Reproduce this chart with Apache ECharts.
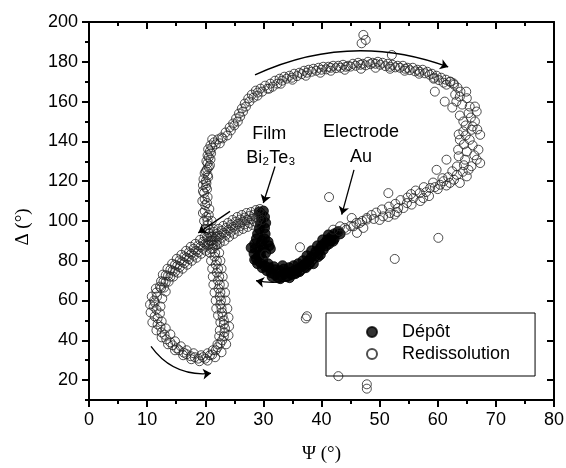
<!DOCTYPE html>
<html><head><meta charset="utf-8">
<script src="https://cdn.jsdelivr.net/npm/echarts@6/dist/echarts.min.js"></script>
<style>html,body{margin:0;padding:0;background:#fff}#c{width:566px;height:468px}</style>
</head><body><div id="c"></div>
<script>
const xTicks = [0, 10, 20, 30, 40, 50, 60, 70, 80];
const yMajorTicks = [20, 40, 60, 80, 100, 120, 140, 160, 180, 200];
const yMinorTicks = [10, 30, 50, 70, 90, 110, 130, 150, 170, 190];
const seriesNames = ['Dépôt', 'Redissolution'];

// Dépôt (filled circles)
const depot = [
[42.8,94.5],[42.2,93.5],[41.7,92],[41.2,93],[41,90.5],[40.6,89],[40.2,90.5],[40,87.5],[39.7,86],[39.3,87.5],
[39,84.5],[38.8,83],[38.3,85],[38.2,81.5],[37.8,80],[37.5,82.5],[37.2,78.5],[36.8,80],[36.6,77],[36,76],
[36,78.5],[35.3,75],[35.2,77.5],[34.5,74],[34.4,76.5],[33.7,73.5],[33.5,75.8],[33,72.5],[32.8,75],[32,73],
[32,75.5],[31.3,74],[31,76.5],[30.6,75],[30.2,77.5],[29.8,76.5],[29.5,79],[29,78.5],[28.8,81],[28.5,80.5],
[29.2,82.5],[28.4,83.5],[29.4,85],[28.6,86],[30,86.5],[28.5,88.5],[29.6,88.5],[31,87.5],[28.8,91],[30.2,91],
[29,93.5],[30.3,93.5],[29.3,96],[30.2,96.5],[29.5,98.5],[30.4,99],[29.7,101],[30.2,102],[29.6,103.5],[30,105],
[29.3,104.5],[38.6,78.5],[39.8,83],[40.8,87.5],[41.6,90],[42.2,91],[35.5,73.5],[34,72],[32.5,71.5],[37.3,76.5],
[32.9,71],[33.3,77.5],[31.5,72],[34.5,71.5],[36.2,74.5],[31.2,86],[27.9,86.5],
[31.8,77],[30.8,78.5],[29.9,80.5],[29.5,83],[30.4,84],[29.8,90],[30.8,89.5],[34.8,73.2],[35.8,74.8],[37,77.5],
[37.9,78.2],[39.4,82],[40.3,85.5],[41.3,88.5],[42,89.8],[43.2,93.5]
];

// Redissolution (open circles)
const redissolution = [
[29.6,103.5],[29.4,106],[29.8,100.5],[28.8,102],[28.7,105.5],[28.9,99],[28,101],[27.9,104.5],[28.1,98],
[27.2,100.5],[27.1,104],[27.3,97],[26.4,99.5],[26.3,103],[26.5,96],[25.6,98.5],[25.5,102],[25.7,95],
[24.8,97],[24.7,100.5],[24.9,93.5],[24,95.5],[23.9,99],[24.1,92],[23.2,94],[23.1,97.5],[23.3,90],
[22.4,92.5],[22.3,96],[22.5,89],[21.6,91],[21.5,94.5],[21.7,87.5],[20.8,90],[20.7,93.5],[20.9,86],
[20,88.5],[19.9,92],[20.1,85],[19.2,87],[19.1,90.5],[19.3,83.5],[18.4,85],[18.3,88.5],[18.5,81.5],
[17.6,83.5],[17.5,87],[17.7,80],[16.8,81.5],[16.7,85],[16.9,78],[16,79.5],[15.9,83],[16.1,76],
[15.2,77.5],[15.1,81],[15.3,74],[14.4,75],[14.3,78.5],[14.5,72],[13.6,72.5],[13.5,76],[13.7,69.5],
[12.8,69.5],[12.7,73],[12.9,66.5],
[29.2,104.5],[29.2,101],[28.4,103.2],[28.4,99.8],[27.6,102.5],[27.6,99],[26.8,101.7],[26.8,98.3],
[26,100.7],[26,97.3],[25.2,99.5],[25.2,96],[24.4,98],[24.4,94.5],[23.6,96.5],[23.6,93],[22.8,95],[22.8,91.5],
[22,93.5],[22,90],[21.2,92.2],[21.2,88.8],[20.4,91],[20.4,87.5],[19.6,89.5],[19.6,86],[18.8,87.7],[18.8,84.3],
[18,86],[18,82.5],[17.2,84.2],[17.2,80.8],[16.4,82.2],[16.4,78.8],[15.6,80.2],[15.6,76.8],[14.8,78],[14.8,74.5],
[14,75.5],[14,72],[13.2,72.7],[13.2,69.3],[12.4,69.7],[12.4,66.3],
[12.2,67],[11.5,66],[13.2,64.5],[11.6,64],[10.8,62],[12.6,61],[11.2,60],[10.5,58],[12.3,57],
[11.1,57],[10.6,54],[12.2,53.5],[11.3,52],[10.9,49],[12.5,49.5],[11.8,48],[11.6,45],[13.2,46],
[12.5,44],[12.5,41.5],[14,43],[13.3,40.5],[13.6,38],[14.8,39.5],[14.4,37.5],[14.8,35],[15.8,37],
[15.5,35],[16.2,32.5],[16.8,35],[16.8,33],[17.6,30.5],[18,33.5],[18.2,31.5],[19,29.5],[19.3,32.5],
[19.6,31.5],[20.4,29.8],[20.4,33.5],[20.8,32.5],[21.7,31.5],[21.3,35],[21.8,35],[22.8,34],[22.1,38],
[11.7,62],[11.3,59],[11.6,55.5],[11.8,51],[12.3,46.8],[13,42.8],[14,39],[15.1,36],[16.3,33.8],[17.5,32],
[18.8,30.8],[20,30.8],[21.2,32.8],[22.1,36.5],[22.9,40],[23.3,44],[23.2,48],[23,52],[22.8,56],[22.7,60],
[22.6,64],[22.5,68],[22.4,72],[22.2,76],[22,80],[21.7,84],[21.4,88],[21,92],[20.6,96],[20.4,100],
[22.6,38.5],[23.6,38],[22.4,42],[23.2,42],[24,42.5],[22.5,45],[23.4,46],[24.1,47],[22.6,49],
[23.2,50],[24,51.5],[22.2,52.5],[22.9,54],[23.8,56],[21.9,56],[22.6,58],[23.5,60],[21.8,60],
[22.5,62],[23.4,64],[21.6,64],[22.3,66],[23.2,68],[21.4,68],[22.2,70],[23,72],[21.3,72],
[22,74],[22.8,76],[21.2,76],[21.8,78],[22.6,80],[21,80],[21.6,82],[22.4,84],[20.8,84],
[21.3,86],[22,88],[20.6,88],[21,90],[21.8,92],[20.3,92],[20.7,94],[21.4,96],[20,96],
[20.4,98],[21.1,100],[19.8,100],
[20.2,102],[19.6,104],[20.7,106],[20,108],[19.5,110],[20.4,112],[19.8,114],[20.3,116],[19.6,118],
[20.1,120],[20.5,122],[19.9,124],[20.3,126],[20.8,128],[20.2,130],[20.6,132],[21,134],[20.5,136],
[20.9,138],[21.5,139.5],[22.2,141],
[20.6,103],[19.9,105],[20.3,109],[19.9,111],[19.6,115],[20.1,117],[20.2,119],[19.7,121],[20.4,123],[20.1,125],
[20.6,127],[20.4,129],[20.9,131],[20.4,133],[20.8,135],[21.2,137],[21.8,138.5],[21.2,141],[22.5,139],[23,141.5],
[23.8,143],[24.4,145.5],[25,148],[25.6,150],[26,152.5],[26.5,155],[27,157.5],[27.6,160],[28.3,162],[29,164.5],
[29.8,165],[30.7,166.5],[31.6,167.5],[32.4,169],[33.2,170.5],[34,171.5],[34.9,172],[35.8,172.8],[36.6,173.8],
[37.5,174.5],[38.3,175],[39.1,175.5],[40,176],[40.8,176.2],[41.6,177],[42.5,176.8],[43.3,177],[44.2,177.5],
[45,177.6],[45.9,178],[46.7,178.5],[47.6,178.2],[48.4,178.8],[49.3,179],[50.1,178.5],[51,177.8],[51.8,177.5],
[52.7,177.2],[53.5,177],[54.4,176.5],[55.2,175.8],[56.1,175.2],[56.9,175],[57.8,174.2],[58.6,173.5],[59.4,172],
[60.2,170.8],[61,169.5],
[22.8,142],[23.5,144.5],[24.2,147],[24.8,149],[25.3,151.5],[25.8,154],[26.3,156.5],[26.8,159],[27.4,161.5],
[28,163.5],[28.7,165.5],[29.5,166.5],[30.3,168],[31.2,169],[32,170.5],[32.8,171.5],[33.6,172.5],[34.5,173],
[35.3,174],[36.2,174.5],[37,175.5],[37.8,176],[38.6,176.5],[39.5,177],[40.3,177.5],[41.2,177.5],[42,178],
[42.9,178],[43.7,178.5],[44.6,178],[45.4,179],[46.3,179.5],[47.1,179],[48,180],[48.8,179.5],[49.7,180],
[50.5,179.5],[51.4,179],[52.2,178.5],[53.1,178],[54,178],[54.8,177],[55.7,177],[56.5,176],[57.4,176],
[58.2,175],[59,174],[59.8,173],[60.6,172],[61.4,171],[62.2,170],[62.8,168.5],[63.4,167],[63.9,165],
[29,163],[31,166.5],[33,169],[35,171],[37.3,173],[39.8,174.5],[41.6,175.5],[44,176],[46.8,176.5],
[49.3,177],[51.8,176.5],[54.3,175.5],[56.8,174],[59.3,171.5],[61.5,168.5],
[47.2,193.5],[46.9,189.3],[47.6,191],[52.1,183.4],[59.5,165],
[62.1,170],[62.7,169.2],[61.2,160],[63.8,162.5],[65,161.7],[66.4,157.5],[66.7,155],[65.3,154.2],[64.4,150],
[66.4,150],[65.8,145.8],[64.4,145],[67.3,143.3],[65.5,140.8],[63.8,140.8],[67,135.8],[65,134.9],[63.5,135.8],
[66.7,130.8],[64.7,130.8],[61.5,130.8],[67.3,129.1],[63.3,127.4],[65.3,125.7],[59.8,125.7],[63.3,123.2],[65,122.4],
[62.1,119.1],[63.8,119.1],[60.4,118.2],[58.7,116.6],[56.9,114],[55.8,111.5],[54.7,109],[53.2,106.5],[51.8,104],
[50.6,102.3],[52.6,103.2],[54.1,106.5],[57.5,111.5],[58,114.5],[59.5,117],[61,120],[64.5,128],[66,138],
[64.8,143],[66,147.5],[65.5,157.5],[64.2,158.5],[63,163.5],
[64.9,165],[63.2,160],[62.5,157],[63.8,153],[65.7,152],[64.8,148],[66.8,146],[63.6,143.5],[64.5,138.5],
[66.3,133],[63.6,132.5],[65.8,127.5],[62.5,125],[64.3,124.7],[61.8,122],[60.8,121.5],[62.8,120.7],[59.2,119.3],
[57.6,117],[56.2,115.3],[55.4,113.5],[54.8,111.8],[53.6,110.5],[52.7,108.6],[51.6,107.2],[50.4,105.8],[49.4,104.2],
[48.6,103],[47.8,101.5],[47,100],[46,99],[45,97.5],[44,96.5],[43,95],
[42,95.6],[43.2,97.3],[44.3,95.6],[45.5,97.3],[46.6,99],[47.2,96.5],[47.8,100.7],[46.1,94],[45.2,101.5],
[49,101],[50,100.5],[51.5,102],[53,104.5],[55.5,108.2],[57,110],[58.5,112.5],[60,116],[61.5,117.8],
[41.3,112],[36.3,86.8],[30.3,83.1],[51.5,114],[60.1,91.5],[52.6,80.9],[37.5,52.1],[37.3,51],
[42.9,22],[47.8,17.9],[47.8,15.7]
];

// Annotation arrows (data coordinates) and labels
const arrowFrom = [[28.56,173.4],[10.67,36.9],[40.43,84.6],[24.26,104.8],[32.0,127.4],[45.59,125.7]];
const arrowTo   = [[61.8,177.4],[20.99,23.4],[28.73,70.0],[18.8,94.0],[29.99,109.0],[43.48,103.2]];
const arrowBend = [0.207,-0.29,0.35,0,0,0];
const labelTexts = ['Film', 'Bi₂Te₃', 'Electrode', 'Au'];
const labelAt = [[31.0,143.8],[31.3,131.8],[46.8,144.8],[46.8,132.3]];

const sans = '"Liberation Sans", Arial, sans-serif';
const serif = '"Liberation Serif", "Times New Roman", serif';
const chart = echarts.init(document.getElementById('c'), null, {renderer: 'canvas'});

const axisLineStyle = {color: '#000', width: 2};
const tickStyle = {width: 2, color: '#000'};
const baseX = {type: 'value', min: xTicks[0], max: xTicks[xTicks.length - 1], interval: xTicks[1] - xTicks[0],
  splitLine: {show: false}, axisLine: {show: true, onZero: false, lineStyle: axisLineStyle}};
const yMin = 10, yMax = 200;

chart.setOption({
  animation: false,
  backgroundColor: '#fff',
  grid: {left: 89, right: 12, top: 22, bottom: 68, containLabel: false, outerBoundsMode: 'none'},
  xAxis: [
    Object.assign({}, baseX, {position: 'bottom',
      axisTick: {show: true, length: 7, lineStyle: tickStyle},
      minorTick: {show: true, splitNumber: 2, length: 4, lineStyle: tickStyle},
      axisLabel: {fontSize: 18, color: '#000', fontFamily: sans, margin: 11},
      name: 'Ψ (°)', nameLocation: 'middle', nameGap: 45,
      nameTextStyle: {fontSize: 19, fontFamily: serif, color: '#000'}}),
    Object.assign({}, baseX, {position: 'top',
      axisTick: {show: true, inside: true, length: 7, lineStyle: tickStyle},
      minorTick: {show: true, splitNumber: 2, length: 4, lineStyle: tickStyle},
      axisLabel: {show: false}})
  ],
  yAxis: [
    {type: 'value', min: yMin, max: yMax, position: 'left', splitLine: {show: false},
      axisLine: {show: true, onZero: false, lineStyle: axisLineStyle},
      axisTick: {show: true, length: 7, customValues: yMajorTicks, lineStyle: tickStyle},
      axisLabel: {customValues: yMajorTicks, fontSize: 18, color: '#000', fontFamily: sans, margin: 11},
      name: 'Δ (°)', nameLocation: 'middle', nameGap: 56,
      nameTextStyle: {fontSize: 19, fontFamily: serif, color: '#000', padding: [0, 32, 0, 0]}},
    {type: 'value', min: yMin, max: yMax, position: 'left', splitLine: {show: false},
      axisLine: {show: false},
      axisTick: {show: true, length: 4, customValues: yMinorTicks, lineStyle: tickStyle},
      axisLabel: {show: false}},
    {type: 'value', min: yMin, max: yMax, position: 'right', splitLine: {show: false},
      axisLine: {show: true, onZero: false, lineStyle: axisLineStyle},
      axisTick: {show: true, inside: true, length: 7, customValues: yMajorTicks, lineStyle: tickStyle},
      axisLabel: {show: false}},
    {type: 'value', min: yMin, max: yMax, position: 'right', splitLine: {show: false},
      axisLine: {show: false},
      axisTick: {show: true, inside: true, length: 4, customValues: yMinorTicks, lineStyle: tickStyle},
      axisLabel: {show: false}}
  ],
  legend: {
    data: seriesNames, orient: 'vertical', left: 326, top: 313,
    itemWidth: 50, itemHeight: 10, itemGap: 4, selectedMode: false,
    padding: [10, 25, 13, 40], borderColor: '#000', borderWidth: 1,
    textStyle: {fontSize: 18, color: '#000', fontFamily: sans}
  },
  series: [
    {name: seriesNames[0], type: 'scatter', data: depot, symbol: 'circle', symbolSize: 10,
      itemStyle: {color: '#000', borderColor: '#000', borderWidth: 1}, z: 2},
    {name: seriesNames[1], type: 'scatter', data: redissolution, symbol: 'circle', symbolSize: 9,
      itemStyle: {color: 'rgba(255,255,255,0)', borderColor: '#222', borderWidth: 1}, z: 3},
    {type: 'lines', coordinateSystem: 'cartesian2d', silent: true, z: 4,
      symbol: ['none', 'arrow'], symbolSize: 8,
      lineStyle: {color: '#000', width: 1.3, opacity: 1},
      data: arrowFrom.map((f, i) => ({coords: [f, arrowTo[i]], lineStyle: {curveness: arrowBend[i]}}))}
  ]
});

chart.setOption({
  graphic: labelTexts.map((t, i) => {
    const p = chart.convertToPixel({xAxisIndex: 0, yAxisIndex: 0}, labelAt[i]);
    return {type: 'text', x: p[0], y: p[1], z: 10,
      style: {text: t, fill: '#000', font: '18px ' + sans, textAlign: 'center', textVerticalAlign: 'middle'}};
  })
});
</script>
</body></html>
